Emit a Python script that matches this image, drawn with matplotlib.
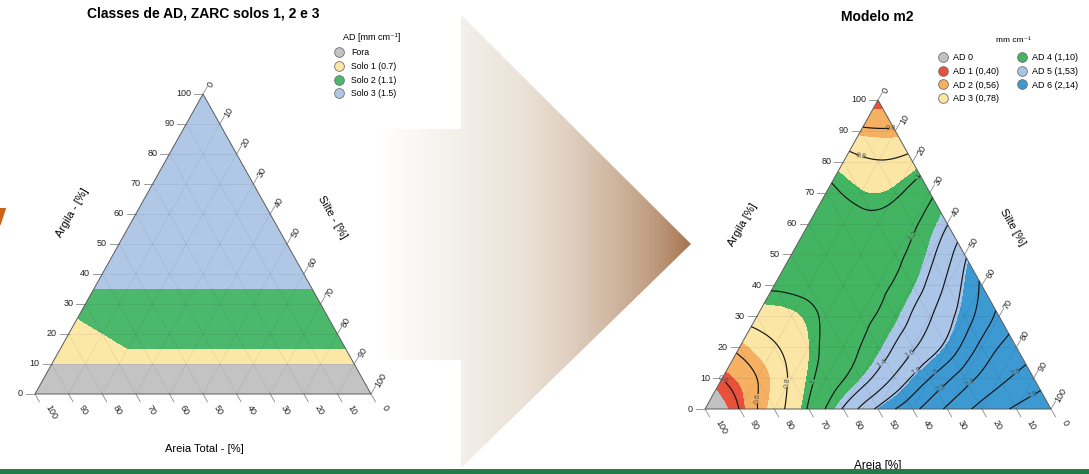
import numpy as np
import matplotlib
matplotlib.use("Agg")
import matplotlib.pyplot as plt
import matplotlib.tri as mtri
import matplotlib.transforms as mtransforms
from matplotlib.colors import ListedColormap, BoundaryNorm, LinearSegmentedColormap
from matplotlib.patches import Polygon, Rectangle
from matplotlib.lines import Line2D

plt.rcParams['font.family'] = ['Liberation Sans', 'DejaVu Sans']

FIG_W, FIG_H = 1089, 474
SQ3 = np.sqrt(3) / 2

# ---------------- data ----------------
tick_values = list(range(0, 101, 10))

# ZARC soil types (left panel)
zarc_labels = ["Fora", "Solo 1 (0.7)", "Solo 2 (1.1)", "Solo 3 (1.5)"]
zarc_colors = ["#c3c3c3", "#fbe7a6", "#4cb86c", "#b0c8e6"]
zarc_clay_fora = 10          # clay below this: outside the zoning
zarc_clay_solo1 = 15         # upper clay limit of type 1
zarc_clay_solo2 = 35         # upper clay limit of type 2
zarc_sand_minus_clay = 50    # sandy soils (clay 15-35 %) still type 1

# AD classes of model m2 (right panel)
m2_labels = ["AD 0", "AD 1 (0,40)", "AD 2 (0,56)", "AD 3 (0,78)",
             "AD 4 (1,10)", "AD 5 (1,53)", "AD 6 (2,14)"]
m2_class_ad = [0.0, 0.40, 0.56, 0.78, 1.10, 1.53, 2.14]
m2_colors = ["#c2c2c2", "#e8513b", "#f6b062", "#fce6a5",
             "#43b462", "#abc5e8", "#3c99d1"]
m2_contour_levels = [0.4, 0.6, 0.8, 1.0, 1.2, 1.4, 1.6, 1.8,
                     2.0, 2.2, 2.4, 2.6, 2.8]

# Model m2 AD [mm cm-1] on a 10 % grid: one list per clay content,
# entries for silt = 0, 10, 20, ... up to 100 - clay
m2_clay_000 = [-0.45, 0.41, 0.72, 1.02, 1.42, 1.84, 2.14, 2.43, 2.66, 2.83, 2.95]
m2_clay_010 = [0.41, 0.60, 0.83, 1.08, 1.31, 1.64, 2.00, 2.31, 2.55, 2.70]
m2_clay_020 = [0.635, 0.78, 0.94, 1.13, 1.29, 1.57, 1.86, 2.26, 2.49]
m2_clay_030 = [0.875, 0.92, 1.03, 1.16, 1.29, 1.58, 1.90, 2.25]
m2_clay_040 = [1.02, 1.04, 1.08, 1.17, 1.30, 1.64, 2.03]
m2_clay_050 = [1.07, 1.08, 1.10, 1.17, 1.35, 1.76]
m2_clay_060 = [1.08, 1.07, 1.05, 1.17, 1.39]
m2_clay_070 = [1.04, 0.95, 0.97, 1.16]
m2_clay_080 = [0.88, 0.81, 0.87]
m2_clay_090 = [0.63, 0.62]
m2_clay_100 = [0.42]

fig = plt.figure(figsize=(FIG_W / 100, FIG_H / 100), dpi=100)
fig.patch.set_facecolor("white")


def tern_xy(clay, silt):
    clay = np.asarray(clay, dtype=float)
    silt = np.asarray(silt, dtype=float)
    return silt + clay / 2.0, clay * SQ3


def fig_text(px, py, s, **kw):
    kw.setdefault("ha", "center")
    kw.setdefault("va", "center")
    return fig.text(px / FIG_W, 1 - py / FIG_H, s, **kw)


def ternary_axes(x0, y0, width, height):
    """Full-figure axes whose data space is the ternary triangle placed at pixels."""
    ax = fig.add_axes([0, 0, 1, 1])
    ax.axis("off")
    ax.patch.set_visible(False)
    sx = width / 100.0
    sy = height / (100.0 * SQ3)
    lims = ((-x0 / sx, (FIG_W - x0) / sx), ((y0 - FIG_H) / sy, y0 / sy))
    return ax, sx, sy, lims


def draw_frame(ax, sx, sy):
    tri_pts = [(0, 0), (100, 0), (50, 100 * SQ3)]
    grid_kw = dict(color="k", alpha=0.09, lw=0.45, zorder=3)
    for v in tick_values[1:-1]:
        ax.plot([v / 2, 100 - v / 2], [v * SQ3, v * SQ3], **grid_kw)
        ax.plot([v, v + (100 - v) / 2], [0, (100 - v) * SQ3], **grid_kw)
        ax.plot([100 - v, (100 - v) / 2], [0, (100 - v) * SQ3], **grid_kw)
    ax.add_patch(Polygon(tri_pts, closed=True, fill=False, ec="#5a5a5a",
                         lw=0.7, zorder=5))
    tk = dict(color="#8a8a8a", lw=0.6, zorder=4)
    lab = dict(fontsize=6.5, color="#222222")
    for v in tick_values:
        # clay: left edge
        bx, by = tern_xy(v, 0)
        ax.plot([bx, bx - 9 / sx], [by, by], **tk)
        ax.text(bx, by, str(v), ha="right", va="center",
                transform=mtransforms.offset_copy(ax.transData, fig, x=-12, y=0, units="dots"), **lab)
        # silt: right edge
        bx, by = tern_xy(100 - v, v)
        ax.plot([bx, bx + 4.5 / sx], [by, by + 7.8 / sy], **tk)
        ax.text(bx, by, str(v), ha="left", va="center", rotation=60, rotation_mode="anchor",
                transform=mtransforms.offset_copy(ax.transData, fig, x=6.5, y=7.5, units="dots"), **lab)
        # sand: bottom edge
        bx, by = tern_xy(0, 100 - v)
        ax.plot([bx, bx + 4.5 / sx], [by, by - 7.8 / sy], **tk)
        ax.text(bx, by, str(v), ha="left", va="center", rotation=-60, rotation_mode="anchor",
                transform=mtransforms.offset_copy(ax.transData, fig, x=12.5, y=-11.5, units="dots"), **lab)
    return Polygon(tri_pts, closed=True, transform=ax.transData)


def legend_handles(colors):
    return [Line2D([], [], marker="o", ls="", markersize=7, markerfacecolor=c,
                   markeredgecolor="#707070", markeredgewidth=0.6) for c in colors]


# ---------------- background decorations ----------------
ax_bg = fig.add_axes([0, 0, 1, 1], zorder=-1)
ax_bg.axis("off")
arrow_cmap = LinearSegmentedColormap.from_list(
    "arrow", [(0.0, "#ffffff"), (0.26, "#f3efe9"), (0.45, "#ece3d9"),
              (0.6, "#e0d1c2"), (0.75, "#d0b7a1"), (0.88, "#bf9c80"),
              (1.0, "#a8764f")])
arrow = Polygon([(380, 129), (461, 129), (461, 15), (691, 244), (461, 468),
                 (461, 360), (380, 360)], closed=True, fc="none", ec="none")
ax_bg.add_patch(arrow)
grad = ax_bg.imshow(np.linspace(0, 1, 256)[None, :], extent=(380, 691, 470, 14),
                    aspect="auto", cmap=arrow_cmap, interpolation="bilinear")
grad.set_clip_path(arrow)
ax_bg.add_patch(Polygon([(0, 208), (6.2, 208), (0.6, 225), (0, 225)],
                        closed=True, fc="#c9631c", ec="none"))
ax_bg.set_xlim(0, FIG_W)
ax_bg.set_ylim(FIG_H, 0)

# ---------------- raster grid shared by both panels ----------------
gx = np.linspace(0, 100, 701)
gy = np.linspace(0, 100 * SQ3, 607)
GX, GY = np.meshgrid(gx, gy)
g_clay = GY / SQ3
g_silt = GX - g_clay / 2
g_sand = 100 - g_clay - g_silt
outside = (g_silt < -0.5) | (g_sand < -0.5)

# ---------------- left panel: ZARC classes ----------------
axL, sxL, syL, limL = ternary_axes(35, 394, 336, 300)
zarc_cls = np.where(g_clay < zarc_clay_fora, 0,
           np.where(g_clay > zarc_clay_solo2, 3,
           np.where((g_clay <= zarc_clay_solo1) | (g_sand - g_clay >= zarc_sand_minus_clay), 1, 2)))
zarc_cls = np.ma.masked_where(outside, zarc_cls)
imL = axL.imshow(zarc_cls, extent=(0, 100, 0, 100 * SQ3), origin="lower",
                 cmap=ListedColormap(zarc_colors), vmin=-0.5, vmax=3.5,
                 interpolation="nearest", aspect="auto", zorder=1)
clipL = draw_frame(axL, sxL, syL)
imL.set_clip_path(clipL)
axL.set_xlim(*limL[0])
axL.set_ylim(*limL[1])

fig_text(203, 14, "Classes de AD, ZARC solos 1, 2 e 3", fontsize=10, fontweight="bold")
fig_text(72, 213, "Argila - [%]", fontsize=8, rotation=60)
fig_text(332, 217, "Silte - [%]", fontsize=8, rotation=-60)
fig_text(204, 449, "Areia Total - [%]", fontsize=8)
fig_text(372, 37, "AD [mm cm\u207b\u00b9]", fontsize=6.5)
axL.legend(legend_handles(zarc_colors), zarc_labels,
           loc="upper left", bbox_to_anchor=(334.6 / FIG_W, 1 - 48.4 / FIG_H),
           bbox_transform=fig.transFigure, frameon=False, fontsize=6.3,
           handletextpad=0.9, labelspacing=0.53, borderpad=0,
           borderaxespad=0, handlelength=1.0)

# ---------------- right panel: model m2 ----------------
axR, sxR, syR, limR = ternary_axes(705, 409, 346, 309)
m2_rows = [m2_clay_000, m2_clay_010, m2_clay_020, m2_clay_030, m2_clay_040,
           m2_clay_050, m2_clay_060, m2_clay_070, m2_clay_080, m2_clay_090,
           m2_clay_100]
pt_clay, pt_silt, pt_ad = [], [], []
for i, row in enumerate(m2_rows):
    for j, v in enumerate(row):
        pt_clay.append(10 * i)
        pt_silt.append(10 * j)
        pt_ad.append(v)
px_, py_ = tern_xy(pt_clay, pt_silt)
m2_tri = mtri.Triangulation(px_, py_)
m2_interp = mtri.CubicTriInterpolator(m2_tri, np.array(pt_ad), kind="min_E")
m2_field = m2_interp(GX, GY)

edges = [(a + b) / 2 for a, b in zip(m2_class_ad[:-1], m2_class_ad[1:])]
m2_norm = BoundaryNorm([-10] + edges + [10], len(m2_colors))
imR = axR.imshow(m2_field, extent=(0, 100, 0, 100 * SQ3), origin="lower",
                 cmap=ListedColormap(m2_colors), norm=m2_norm,
                 interpolation="nearest", aspect="auto", zorder=1)
cs = axR.contour(GX, GY, m2_field, levels=m2_contour_levels, colors="#151515",
                 linewidths=0.85, zorder=6)
axR.clabel(cs, fmt=lambda v: f"{v:g}", fontsize=5.5, colors="#555555",
           inline=True, inline_spacing=2)
clipR = draw_frame(axR, sxR, syR)
imR.set_clip_path(clipR)
axR.set_xlim(*limR[0])
axR.set_ylim(*limR[1])

fig_text(877, 17, "Modelo m2", fontsize=10, fontweight="bold")
fig_text(743, 225, "Argila [%]", fontsize=8, rotation=60)
fig_text(1013, 227, "Silte [%]", fontsize=8, rotation=-60)
fig_text(878, 466, "Areia [%]", fontsize=8.5)
fig_text(1013, 40, "mm cm\u207b\u00b9", fontsize=6)
axR.legend(legend_handles(m2_colors), m2_labels, ncol=2,
           loc="upper left", bbox_to_anchor=(938.5 / FIG_W, 1 - 53.3 / FIG_H),
           bbox_transform=fig.transFigure, frameon=False, fontsize=6.5,
           handletextpad=0.6, labelspacing=0.51, borderpad=0,
           borderaxespad=0, handlelength=1.0, columnspacing=2.0)

# bottom band
fig.add_artist(Rectangle((0, 0), 1, 5 / FIG_H, transform=fig.transFigure,
                         fc="#217c4a", ec="none", zorder=10))

fig.savefig("out.png", dpi=100)
